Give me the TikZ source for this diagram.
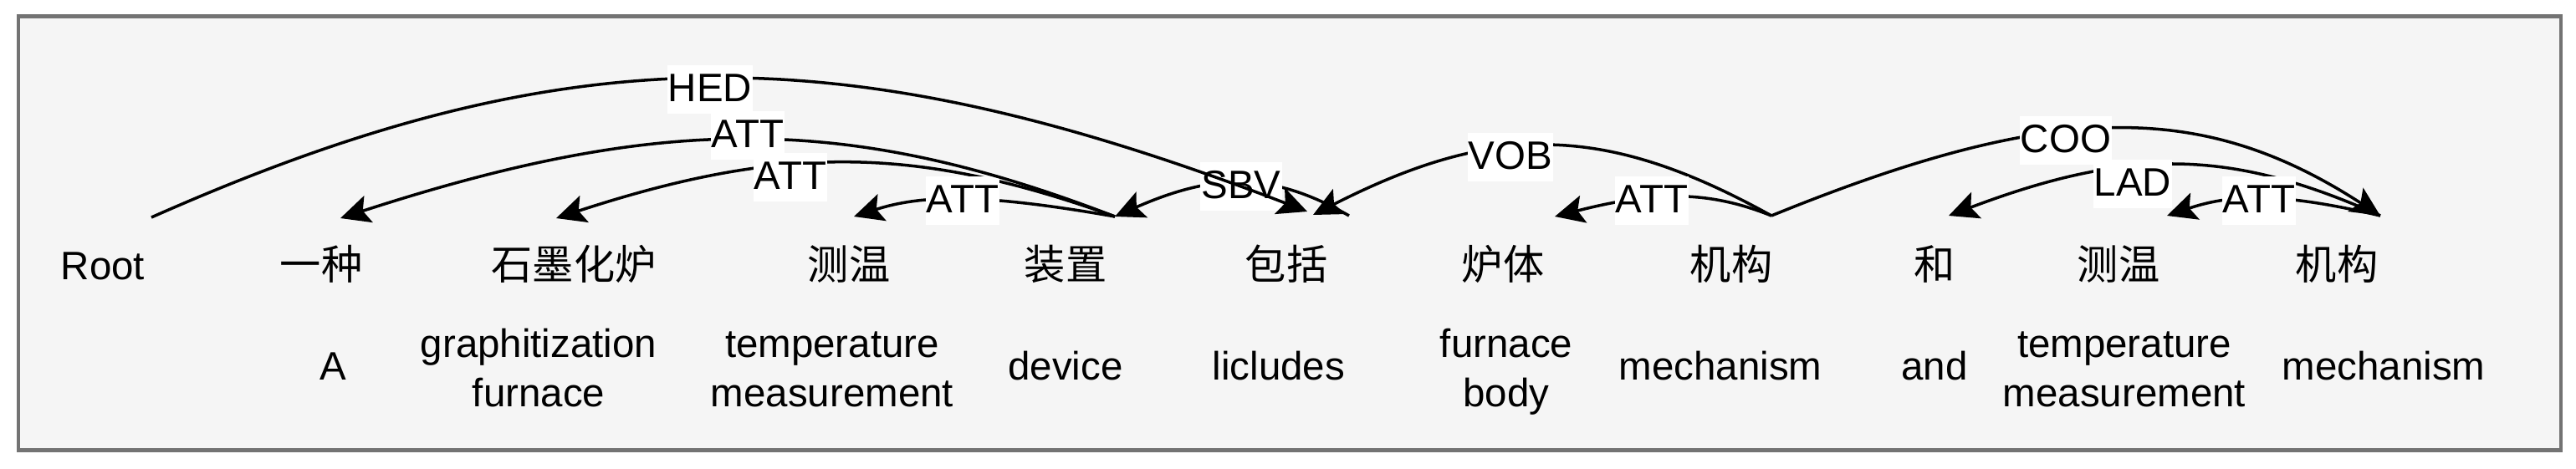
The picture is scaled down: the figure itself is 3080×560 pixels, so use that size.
\documentclass[tikz,border=0pt]{standalone}
\usepackage{fontspec}
\setmainfont{Liberation Sans}
\newfontfamily\cjk{Noto Sans CJK SC}
\usetikzlibrary{arrows.meta}
\newcommand\twoline[2]{\begin{tabular}[t]{@{}c@{}}#1\\#2\end{tabular}}
\definecolor{framegray}{HTML}{737373}
\definecolor{panel}{HTML}{F5F5F5}
\begin{document}
\begin{tikzpicture}[x=0.01cm, y=-0.01cm,
  word/.style={anchor=base, inner sep=0pt, font=\cjk\fontsize{14}{16.8}\selectfont},
  latinword/.style={anchor=base, inner sep=0pt, font=\fontsize{13.5}{16.8}\selectfont},
  gloss/.style={anchor=base, inner sep=0pt, font=\fontsize{13.5}{16.8}\selectfont},
  dep/.style={line width=1pt, -{Stealth[length=10pt,width=9.5pt,inset=2pt]}},
  lab/.style={fill=white, inner xsep=0.3pt, inner ysep=1pt, text height=11.5pt, text depth=3pt,
              font=\fontsize{13.5}{16.8}\selectfont},
  panelbox/.style={draw=framegray, fill=panel, line width=1.15pt}]
\useasboundingbox (0,0) rectangle (3080,560);
\draw[panelbox] (22,19.5) rectangle (3062,538.5);

% words
\node[latinword] (w0) at (123,334) {Root};
\node[word] (w1) at (384,334) {一种};
\node[word] (w2) at (686,334) {石墨化炉};
\node[word] (w3) at (1015,334) {测温};
\node[word] (w4) at (1274,334) {装置};
\node[word] (w5) at (1538,334) {包括};
\node[word] (w6) at (1797,334) {炉体};
\node[word] (w7) at (2070,334) {机构};
\node[word] (w8) at (2313,334) {和};
\node[word] (w9) at (2533,334) {测温};
\node[word] (w10) at (2794,334) {机构};

% glosses
\node[gloss] (e1) at (398,454) {A};
\node[gloss] (e2) at (644,427) {\twoline{graphitization}{furnace}};
\node[gloss] (e3) at (995,427) {\twoline{temperature}{measurement}};
\node[gloss] (e4) at (1274,454) {device};
\node[gloss] (e5) at (1529,454) {licludes};
\node[gloss] (e6) at (1801,427) {\twoline{furnace}{body}};
\node[gloss] (e7) at (2057,454) {mechanism};
\node[gloss] (e8) at (2313,454) {and};
\node[gloss] (e9) at (2540,427) {\twoline{temperature}{measurement}};
\node[gloss] (e10) at (2850,454) {mechanism};

% arc end points
\coordinate (r0) at (181,260);
\coordinate (d1) at (407,261);
\coordinate (d2) at (665,261);
\coordinate (d3) at (1021,259);
\coordinate (g4) at (1333,259);
\coordinate (d5h) at (1563,253);
\coordinate (d5v) at (1570,257);
\coordinate (g5) at (1613,258);
\coordinate (d6) at (1859,259);
\coordinate (g7) at (2118,258);
\coordinate (d8) at (2330,258);
\coordinate (d9) at (2591,258);
\coordinate (g10) at (2846,258);

% arcs
\draw[dep] (g4) .. controls (1094,173) and (934,173) .. (d2) node[lab] at (945,212) {ATT};
\draw[dep] (g4) .. controls (1179,232) and (1105,232) .. (d3) node[lab] at (1151,240) {ATT};
\draw[dep] (g4) .. controls (1014,136) and (792,136) .. (d1) node[lab] at (894,162) {ATT};
\draw[dep] (g5) .. controls (1522,206) and (1454,206) .. (g4) node[lab] at (1484,223) {SBV};
\draw[dep] (r0) .. controls (677,40) and (1009,40) .. (d5h) node[lab] at (849,107) {HED};
\draw[dep] (g7) .. controls (1918,147) and (1786,147) .. (d5v) node[lab] at (1806,188) {VOB};
\draw[dep] (g7) .. controls (2043,228) and (1980,228) .. (d6) node[lab] at (1975,240) {ATT};
\draw[dep] (g7) .. controls (2457,120) and (2633,120) .. (g10) node[lab] at (2470,168) {COO};
\draw[dep] (g10) .. controls (2666,177) and (2544,177) .. (d8) node[lab] at (2550,220) {LAD};
\draw[dep] (g10) .. controls (2731,231) and (2671,231) .. (d9) node[lab] at (2701,240) {ATT};
\end{tikzpicture}
\end{document}
